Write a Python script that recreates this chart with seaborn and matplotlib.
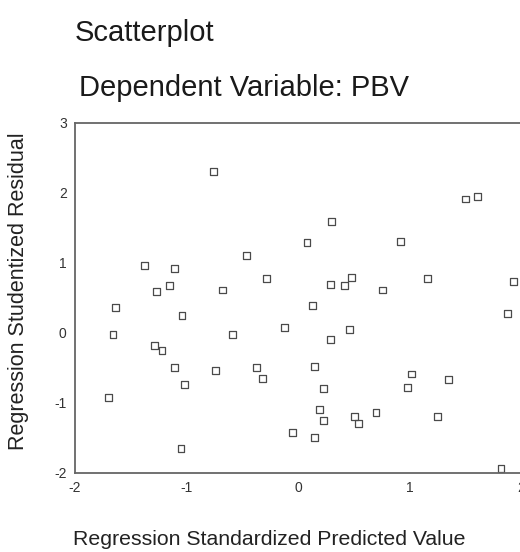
import matplotlib
matplotlib.use("Agg")
import matplotlib.pyplot as plt
import numpy as np
import pandas as pd
import seaborn as sns


TITLE = "Scatterplot"
SUBTITLE = "Dependent Variable: PBV"
X_LABEL = "Regression Standardized Predicted Value"
Y_LABEL = "Regression Studentized Residual"

# standardized predicted values
predicted = [
    -0.76, -1.38, -1.11, -0.46, -0.28, -1.15, -1.27, -0.68,
    1.50, 1.61, 0.30, 0.08, 0.92, 0.29, 0.42, 0.48, 0.76, 1.16, 1.93,
    0.13, -0.12, 0.46, 0.29, 1.88, 0.15, 1.02, 0.98, 1.35, 0.23,
    0.19, 0.23, 0.51, 0.54, 0.70, 1.25, -0.05, 0.15, 1.82,
    -1.64, -1.04, -1.66, -0.59, -1.29, -1.22, -1.11, -0.74, -0.37,
    -0.32, -1.02, -1.70, -1.05,
]

# studentized residuals
residual = [
    2.30, 0.96, 0.92, 1.10, 0.77, 0.67, 0.59, 0.61,
    1.91, 1.95, 1.59, 1.29, 1.30, 0.69, 0.67, 0.79, 0.61, 0.77, 0.73,
    0.39, 0.08, 0.04, -0.10, 0.27, -0.48, -0.59, -0.78, -0.67, -0.80,
    -1.10, -1.25, -1.20, -1.30, -1.14, -1.20, -1.42, -1.50, -1.94,
    0.36, 0.24, -0.02, -0.02, -0.18, -0.25, -0.50, -0.54, -0.50,
    -0.65, -0.74, -0.92, -1.66,
]

x_ticks = [-2, -1, 0, 1, 2]
y_ticks = [-2, -1, 0, 1, 2, 3]

df = pd.DataFrame({"pred": predicted, "resid": residual})

sns.set_style("white")
plt.rcParams["font.family"] = ["Liberation Sans", "DejaVu Sans"]
plt.rcParams["axes.unicode_minus"] = False

fig = plt.figure(figsize=(5.2, 5.52), dpi=100)
ax = fig.add_axes([75 / 520, 79.3 / 552, 446 / 520, 350 / 552])

sns.scatterplot(
    data=df, x="pred", y="resid", ax=ax,
    marker="s", s=24, facecolor="none", edgecolor="#4a4a4a", linewidth=0.9,
    clip_on=False,
)

ax.set_xlim(-2, 2)
ax.set_ylim(-2, 3)
ax.set_xticks(x_ticks)
ax.set_yticks(y_ticks)
ax.tick_params(axis="both", direction="out", length=3, width=1, color="#666666",
               labelsize=10, labelcolor="#333333", pad=3)

for side in ["left", "bottom", "top", "right"]:
    ax.spines[side].set_color("#666666")
    ax.spines[side].set_linewidth(1.3)

ax.set_xlabel(X_LABEL, fontsize=15.3, color="#222222")
ax.set_ylabel(Y_LABEL, fontsize=15.5, color="#222222")
ax.xaxis.set_label_coords(0.435, -0.165)
ax.yaxis.set_label_coords(-0.103, 0.52)

fig.text(75 / 520, 1 - 41 / 552, TITLE, fontsize=21, color="#1a1a1a", va="baseline")
fig.text(79 / 520, 1 - 96 / 552, SUBTITLE, fontsize=21, color="#1a1a1a", va="baseline")

fig.savefig("out.png", dpi=100)
